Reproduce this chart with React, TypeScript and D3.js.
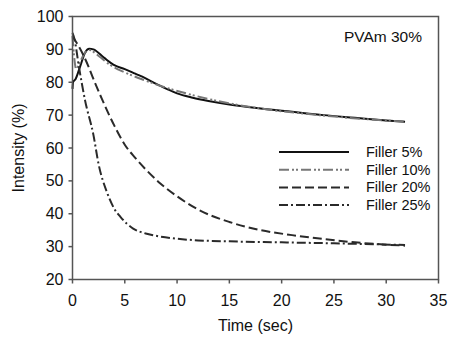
import React from "react";
import * as d3 from "d3";

const W = 449;
const H = 337;

const xTicks = [0, 5, 10, 15, 20, 25, 30, 35];
const yTicks = [20, 30, 40, 50, 60, 70, 80, 90, 100];

const seriesNames = ["Filler 5%", "Filler 10%", "Filler 20%", "Filler 25%"];

const filler5: [number, number][] = [
  [0, 78], [0.05, 80], [0.3, 81], [0.7, 84.5], [1.2, 89], [1.6, 90.2], [2, 90],
  [3, 87.5], [4, 85.2], [5, 84], [6, 82.6], [7, 81.2], [8, 79.5], [9, 78],
  [10, 76.6], [11.5, 75.3], [13, 74.3], [15, 73.2], [18, 72], [21, 71], [24, 70],
  [27, 69.2], [30, 68.4], [31.8, 68],
];
const filler10: [number, number][] = [
  [0, 94], [0.15, 88], [0.35, 84], [0.7, 86], [1.2, 89], [1.6, 89.8], [2.5, 88],
  [3.5, 85.5], [5, 83], [7, 80.5], [9, 78.3], [11, 76.5], [14, 74.2], [18, 72],
  [22, 70.5], [26, 69.3], [31.8, 68],
];
const filler20: [number, number][] = [
  [0, 94], [0.3, 92.5], [1, 88.5], [1.5, 85], [2, 81], [2.8, 75], [4, 66.8],
  [5, 61], [6, 57], [7, 53.5], [8.4, 49.2], [10, 45.3], [12, 41.3], [15, 37.5],
  [18, 35], [21, 33.5], [24, 32.3], [27, 31.3], [30, 30.6], [31.8, 30.3],
];
const filler25: [number, number][] = [
  [0, 95], [0.2, 93], [0.6, 85], [1.2, 74.5], [2, 64], [2.5, 55], [3.3, 46.5],
  [4, 41.5], [4.6, 39], [5.8, 35.5], [7, 34], [7.8, 33.4], [10, 32.4], [12, 31.9],
  [15, 31.6], [20, 31.3], [25, 31], [31.8, 30.5],
];

const seriesData = [filler5, filler10, filler20, filler25];
const styles = [
  { color: "#111", dash: "none", width: 2 },
  { color: "#777", dash: "10 3 2 2 2 3", width: 2 },
  { color: "#2a2a2a", dash: "9 4", width: 2 },
  { color: "#2a2a2a", dash: "9 3 2 3", width: 2 },
];

const FONT = "Liberation Sans, Arial, sans-serif";

export default function App() {
  const left = 72.5;
  const right = 438.5;
  const top = 16.5;
  const bottom = 279.5;

  const x = d3.scaleLinear().domain([0, 35]).range([left, right]);
  const y = d3.scaleLinear().domain([20, 100]).range([bottom, top]);

  const line = d3
    .line<[number, number]>()
    .x((d) => x(d[0]))
    .y((d) => y(d[1]))
    .curve(d3.curveMonotoneX);

  const legendX1 = 279;
  const legendX2 = 349;
  const legendTextX = 366;
  const legendY0 = 152;
  const legendDy = 17.7;

  return (
    <div style={{ position: "absolute", left: 0, top: 0 }}>
      <svg width={W} height={H} style={{ display: "block", background: "#fff" }}>
        <rect x={0} y={0} width={W} height={H} fill="#fff" />
        {seriesData.map((d, i) => (
          <path
            key={i}
            d={line(d) || ""}
            fill="none"
            stroke={styles[i].color}
            strokeWidth={styles[i].width}
            strokeDasharray={styles[i].dash}
          />
        ))}
        <rect
          x={left}
          y={top}
          width={right - left}
          height={bottom - top}
          fill="none"
          stroke="#555"
          strokeWidth={1.5}
        />
        {yTicks.map((t) => (
          <g key={"y" + t}>
            <line x1={left - 4} x2={left} y1={y(t)} y2={y(t)} stroke="#555" strokeWidth={1.5} />
            <text
              x={left - 9}
              y={y(t)}
              dy="0.35em"
              textAnchor="end"
              fontFamily={FONT}
              fontSize={16}
              fill="#111"
            >
              {t}
            </text>
          </g>
        ))}
        {xTicks.map((t) => (
          <g key={"x" + t}>
            <line x1={x(t)} x2={x(t)} y1={bottom} y2={bottom + 4} stroke="#555" strokeWidth={1.5} />
            <text
              x={x(t)}
              y={bottom + 21}
              dy="0.35em"
              textAnchor="middle"
              fontFamily={FONT}
              fontSize={16}
              fill="#111"
            >
              {t}
            </text>
          </g>
        ))}
        <text
          x={(left + right) / 2}
          y={325}
          dy="0.35em"
          textAnchor="middle"
          fontFamily={FONT}
          fontSize={16}
          fill="#111"
        >
          Time (sec)
        </text>
        <text
          transform={`translate(18,${(top + bottom) / 2}) rotate(-90)`}
          dy="0.35em"
          textAnchor="middle"
          fontFamily={FONT}
          fontSize={16}
          fill="#111"
        >
          Intensity (%)
        </text>
        <text
          x={422}
          y={37}
          dy="0.35em"
          textAnchor="end"
          fontFamily={FONT}
          fontSize={15.5}
          fill="#111"
        >
          PVAm 30%
        </text>
        {seriesNames.map((name, i) => (
          <g key={name}>
            <line
              x1={legendX1}
              x2={legendX2}
              y1={legendY0 + i * legendDy}
              y2={legendY0 + i * legendDy}
              stroke={styles[i].color}
              strokeWidth={styles[i].width}
              strokeDasharray={styles[i].dash}
            />
            <text
              x={legendTextX}
              y={legendY0 + i * legendDy}
              dy="0.35em"
              fontFamily={FONT}
              fontSize={14.5}
              fill="#111"
            >
              {name}
            </text>
          </g>
        ))}
      </svg>
    </div>
  );
}
